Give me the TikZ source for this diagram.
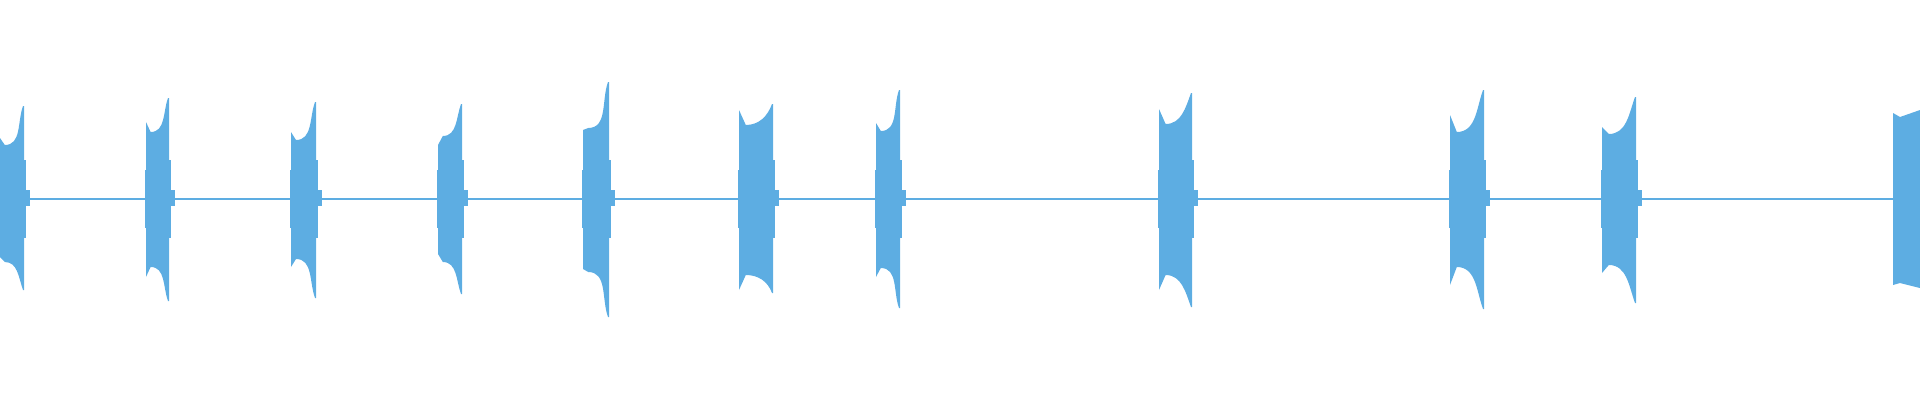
\documentclass[tikz,border=0pt]{standalone}
\usetikzlibrary{calc}
\definecolor{wavecol}{RGB}{93,173,226}
\tikzstyle{wave} = [fill=wavecol, draw=none]
\tikzstyle{baseline} = [draw=wavecol, line width=1.2pt]
\newcommand{\myBurst}[8]{
    \fill[wave] (#1,199) -- (#1,#3) -- ($(#1,#4)+(0.2*#2-0.2*#1,0)$) to[out=0,in=250] (#2-1,#5) -- (#2,#5)
        -- (#2,#8) -- (#2-1,#8) to[out=110,in=0] ($(#1,#7)+(0.2*#2-0.2*#1,0)$) -- (#1,#6) -- cycle;
    \fill[wave] (#1-1.5,170) rectangle (#1,228);
    \fill[wave] (#2,160) rectangle (#2+1.5,238);
    \fill[wave] (#2+1.5,190) rectangle (#2+6,206);
}

\begin{document}
\begin{tikzpicture}[x=1pt, y=-1pt]
        \useasboundingbox (0,0) rectangle (1920,400);
        \path[baseline] (0,199) coordinate (start) -- (1920,199) coordinate (end);

        \myBurst{0}{24}{138}{145}{106}{257}{262}{290}
        \myBurst{146}{169}{122}{132}{98}{277}{267}{301}
        \myBurst{291}{316}{132}{140}{102}{267}{259}{298}
        \myBurst{438}{462}{145}{136}{104}{254}{262}{294}
        \myBurst{583}{609}{130}{128}{82}{269}{272}{317}
        \myBurst{739}{773}{110}{125}{104}{290}{275}{293}
        \myBurst{876}{900}{123}{131}{90}{277}{268}{308}
        \myBurst{1159}{1192}{109}{124}{93}{290}{275}{307}
        \myBurst{1450}{1484}{115}{132}{90}{285}{267}{309}
        \myBurst{1602}{1636}{127}{134}{97}{273}{265}{303}
        \fill[wave] (1893,199) -- (1893,113) -- (1900,117) -- (1920,110) -- (1920,288) -- (1900,283) -- (1893,285) -- cycle;
    \end{tikzpicture}
\end{document}
